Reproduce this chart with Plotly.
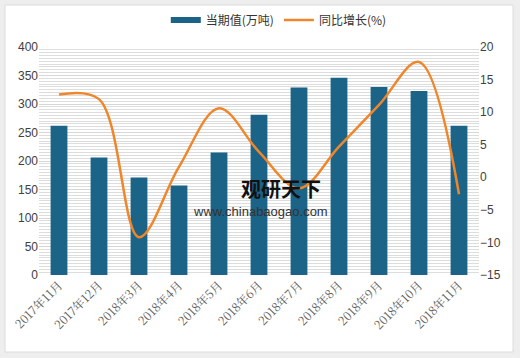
import plotly.graph_objects as go

categories = ["2017年11月", "2017年12月", "2018年3月", "2018年4月", "2018年5月",
              "2018年6月", "2018年7月", "2018年8月", "2018年9月", "2018年10月", "2018年11月"]
volume = [262, 206, 171, 157, 215, 281, 329, 346, 330, 323, 262]
growth = [12.7, 12.0, -9.2, 1.6, 10.6, 3.9, -1.7, 4.7, 11.1, 17.7, -2.6]
left_ticks = [0, 50, 100, 150, 200, 250, 300, 350, 400]
right_ticks = [-15, -10, -5, 0, 5, 10, 15, 20]

BAR = "#1b6387"
ORANGE = "#f0862a"

fig = go.Figure()
fig.add_trace(go.Bar(
    x=categories, y=volume, name="当期值(万吨)", showlegend=False,
    marker=dict(color=BAR, line=dict(width=0)), width=0.42,
))
# legend swatch for the bars (wide rectangle like the reference)
fig.add_trace(go.Scatter(
    x=[None], y=[None], name="当期值(万吨)", mode="lines",
    line=dict(color=BAR, width=6),
))
fig.add_trace(go.Scatter(
    x=categories, y=growth, name="同比增长(%)", yaxis="y2", mode="lines",
    line=dict(color=ORANGE, width=2.5, shape="spline", smoothing=1.0),
))

W, H = 520, 358
L, R, T, B = 39, 41, 47, 83
pw, ph = W - L - R, H - T - B


def px_x(p):
    return (p - L) / pw


def px_y(p):
    return (H - B - p) / ph


fig.add_shape(type="rect", xref="paper", yref="paper",
              x0=px_x(5), x1=px_x(513), y0=px_y(352), y1=px_y(5),
              fillcolor="white", line=dict(color="#dcdcdc", width=1), layer="below")

fig.add_annotation(xref="paper", yref="paper", x=px_x(281), y=px_y(188),
                   text="<b>观研天下</b>", showarrow=False,
                   font=dict(family="Noto Sans CJK SC", size=20, color="#111"),
                   xanchor="center", yanchor="middle")
fig.add_annotation(xref="paper", yref="paper", x=px_x(260), y=px_y(211),
                   text="www.chinabaogao.com", showarrow=False,
                   font=dict(family="Liberation Sans", size=13, color="#333"),
                   xanchor="center", yanchor="middle")

fig.update_layout(
    width=W, height=H,
    margin=dict(l=L, r=R, t=T, b=B, autoexpand=False),
    paper_bgcolor="#eeeeee",
    plot_bgcolor="#f3f3f3",
    font=dict(family="Liberation Sans", size=12, color="#404040"),
    showlegend=True,
    legend=dict(orientation="h", x=0.545, xanchor="center",
                yref="container", y=1 - 20 / H, yanchor="middle",
                itemwidth=30,
                font=dict(family="Noto Sans CJK SC", size=12, color="#333"),
                bgcolor="rgba(0,0,0,0)"),
    xaxis=dict(
        tickangle=-45, automargin=False,
        tickfont=dict(family="Noto Serif CJK SC, Noto Sans CJK SC", size=12, color="#595959"),
        showgrid=False, zeroline=False, showline=False, ticks="",
        range=[-0.5, 10.5],
    ),
    yaxis=dict(
        range=[0, 400], tickvals=left_ticks, automargin=False,
        showgrid=True, gridcolor="#d6d6d6", gridwidth=1,
        minor=dict(dtick=5, showgrid=True, gridcolor="#dddddd", gridwidth=1),
        zeroline=False, showline=False, ticks="",
        tickfont=dict(size=12, color="#404040"),
    ),
    yaxis2=dict(
        range=[-15, 20], tickvals=right_ticks, overlaying="y", side="right",
        automargin=False,
        showgrid=False, zeroline=False, showline=False, ticks="",
        tickfont=dict(size=12, color="#404040"),
    ),
)

fig.write_html("out.html", config={"displayModeBar": False},
               post_script="document.body.style.margin='0';document.body.style.padding='0';")
